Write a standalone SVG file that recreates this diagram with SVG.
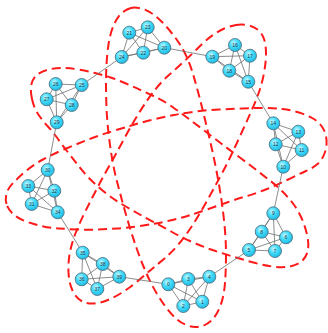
<svg xmlns="http://www.w3.org/2000/svg" width="328" height="333" viewBox="0 0 328 333">
<defs>
<radialGradient id="g" cx="0.4" cy="0.35" r="0.7">
<stop offset="0" stop-color="#c4f7ff"/>
<stop offset="0.45" stop-color="#44dbfa"/>
<stop offset="1" stop-color="#1ab6e0"/>
</radialGradient>
<style>
.hull{fill:none;stroke:#ff1a1a;stroke-width:2;stroke-dasharray:9 5;}
.edge{fill:none;stroke:#6e6e6e;stroke-width:0.8;}
.node circle{fill:url(#g);stroke:#4a6a76;stroke-width:0.8;}
.node text{font-family:"Liberation Sans",Arial,sans-serif;font-size:5px;fill:#1c3440;text-anchor:middle;}
</style>
</defs>
<rect width="328" height="333" fill="#ffffff"/>
<g id="hulls">
<path class="hull" d="M131,8 Q135,7 141,8.5 Q147,10 152,13.5 Q157,17 161.5,21.5 Q166,26 170.5,31.5 Q175,37 179,43 Q183,49 186.5,56.5 Q190,64 193,74 Q196,84 199,95.5 Q202,107 205,119.5 Q208,132 211,145 Q214,158 216.5,171 Q219,184 221,197 Q223,210 224.5,225 Q226,240 226,255 Q226,270 225,283 Q224,296 220.5,305.5 Q217,315 212,320 Q207,325 200.5,326.5 Q194,328 187.5,325.5 Q181,323 176,318.5 Q171,314 166.5,308 Q162,302 158,295.5 Q154,289 150.5,282 Q147,275 143.5,266.5 Q140,258 136.5,248 Q133,238 129.5,226.5 Q126,215 123,204 Q120,193 117,181.5 Q114,170 112,158 Q110,146 108.5,133 Q107,120 106.5,107.5 Q106,95 106,82.5 Q106,70 107,57.5 Q108,45 110,36.5 Q112,28 115.5,21.5 Q119,15 123,12 Q127,9 131,8 Z"/>
<path class="hull" d="M236,25 Q241,24 247,25 Q253,26 257.5,29.5 Q262,33 264,39 Q266,45 266,53.5 Q266,62 264,73 Q262,84 258.5,93.5 Q255,103 250.5,113 Q246,123 241,134 Q236,145 231,155.5 Q226,166 219.5,178 Q213,190 205.5,203.5 Q198,217 191,227.5 Q184,238 177.5,245.5 Q171,253 164.5,258.5 Q158,264 152,269 Q146,274 139,280 Q132,286 124.5,291 Q117,296 109,299.5 Q101,303 94,303.5 Q87,304 81.5,301 Q76,298 72.5,290.5 Q69,283 68.5,272.5 Q68,262 70,252 Q72,242 76,232 Q80,222 85.5,211 Q91,200 97,188.5 Q103,177 109.5,165.5 Q116,154 123.5,140 Q131,126 139,113 Q147,100 154.5,90.5 Q162,81 169.5,74.5 Q177,68 184.5,61 Q192,54 199,47 Q206,40 213,35 Q220,30 225.5,28 Q231,26 236,25 Z"/>
<path class="hull" d="M32,99 Q30,90 31.5,84 Q33,78 37.5,74.5 Q42,71 48.5,69.5 Q55,68 62.5,68 Q70,68 78.5,69.5 Q87,71 95,73 Q103,75 110.5,77.5 Q118,80 126,83.5 Q134,87 141.5,90.5 Q149,94 156.5,97.5 Q164,101 172.5,107 Q181,113 189,119 Q197,125 205.5,131.5 Q214,138 222.5,144.5 Q231,151 240.5,158 Q250,165 257,170.5 Q264,176 270.5,181 Q277,186 282.5,191.5 Q288,197 293,203.5 Q298,210 301.5,218 Q305,226 307,234.5 Q309,243 308,249.5 Q307,256 302.5,260.5 Q298,265 290,266.5 Q282,268 272,266.5 Q262,265 251.5,262 Q241,259 231,256 Q221,253 211,249.5 Q201,246 191,241.5 Q181,237 172,232 Q163,227 154.5,222.5 Q146,218 138,213.5 Q130,209 121.5,204 Q113,199 105,192.5 Q97,186 90.5,179.5 Q84,173 79,166.5 Q74,160 68.5,153 Q63,146 58,139 Q53,132 47.5,126 Q42,120 38,114 Q34,108 32,99 Z"/>
<path class="hull" d="M6.5,204 Q5,199 6.5,193.5 Q8,188 13.5,182.5 Q19,177 26,171 Q33,165 43,159.5 Q53,154 65,149 Q77,144 88.5,139.5 Q100,135 111.5,131.5 Q123,128 133,125 Q143,122 153.5,119.5 Q164,117 174,115 Q184,113 195.5,111.5 Q207,110 219,109.5 Q231,109 242.5,108.5 Q254,108 264,108 Q274,108 282.5,109 Q291,110 299,112.5 Q307,115 313,118.5 Q319,122 322.5,127.5 Q326,133 326.5,140 Q327,147 324.5,153.5 Q322,160 317.5,164 Q313,168 305,171.5 Q297,175 287,180 Q277,185 267,189 Q257,193 247,196 Q237,199 227,202.5 Q217,206 207,209.5 Q197,213 189,215.5 Q181,218 172.5,220 Q164,222 155.5,223.5 Q147,225 137,226.5 Q127,228 117,228.5 Q107,229 97,229.5 Q87,230 77,229.5 Q67,229 58.5,228.5 Q50,228 41.5,226 Q33,224 25,221 Q17,218 12.5,213.5 Q8,209 6.5,204 Z"/>
</g>
<g id="connectors">
<path class="edge" d="M168.3,284.3L202.3,301.7M168.3,284.3L183.3,306M168.3,284.3L188.3,279M168.3,284.3L209.3,276.7M202.3,301.7L183.3,306M202.3,301.7L188.3,279M202.3,301.7L209.3,276.7M183.3,306L188.3,279M183.3,306L209.3,276.7M188.3,279L209.3,276.7"/>
<path class="edge" d="M249,250L286,237.3M249,250L275,251M249,250L261.7,231.7M249,250L273.3,213.3M286,237.3L275,251M286,237.3L261.7,231.7M286,237.3L273.3,213.3M275,251L261.7,231.7M275,251L273.3,213.3M261.7,231.7L273.3,213.3"/>
<path class="edge" d="M283.3,166.7L301.7,150M283.3,166.7L275.7,144.3M283.3,166.7L298.3,131.7M283.3,166.7L273.3,123.3M301.7,150L275.7,144.3M301.7,150L298.3,131.7M301.7,150L273.3,123.3M275.7,144.3L298.3,131.7M275.7,144.3L273.3,123.3M298.3,131.7L273.3,123.3"/>
<path class="edge" d="M248.3,81.7L235,45M248.3,81.7L250,55.7M248.3,81.7L229.3,70.7M248.3,81.7L212.3,56.7M235,45L250,55.7M235,45L229.3,70.7M235,45L212.3,56.7M250,55.7L229.3,70.7M250,55.7L212.3,56.7M229.3,70.7L212.3,56.7"/>
<path class="edge" d="M164.3,47.7L129.3,32.7M164.3,47.7L143.3,52.7M164.3,47.7L147.7,27.3M164.3,47.7L121.7,57M129.3,32.7L143.3,52.7M129.3,32.7L147.7,27.3M129.3,32.7L121.7,57M143.3,52.7L147.7,27.3M143.3,52.7L121.7,57M147.7,27.3L121.7,57"/>
<path class="edge" d="M81.7,85L55.7,84M81.7,85L46.7,99.3M81.7,85L71.7,105M81.7,85L56.7,122.3M55.7,84L46.7,99.3M55.7,84L71.7,105M55.7,84L56.7,122.3M46.7,99.3L71.7,105M46.7,99.3L56.7,122.3M71.7,105L56.7,122.3"/>
<path class="edge" d="M47.7,170L31.7,204M47.7,170L54.3,190.7M47.7,170L28.3,186M47.7,170L57.7,212.3M31.7,204L54.3,190.7M31.7,204L28.3,186M31.7,204L57.7,212.3M54.3,190.7L28.3,186M54.3,190.7L57.7,212.3M28.3,186L57.7,212.3"/>
<path class="edge" d="M82.7,252.7L81.7,279.3M82.7,252.7L97.3,289M82.7,252.7L102.7,264M82.7,252.7L119.3,276.7M81.7,279.3L97.3,289M81.7,279.3L102.7,264M81.7,279.3L119.3,276.7M97.3,289L102.7,264M97.3,289L119.3,276.7M102.7,264L119.3,276.7"/>
<path class="edge" d="M209.3,276.7L249,250M273.3,213.3L283.3,166.7M273.3,123.3L248.3,81.7M212.3,56.7L164.3,47.7M121.7,57L81.7,85M56.7,122.3L47.7,170M57.7,212.3L82.7,252.7M119.3,276.7L168.3,284.3"/>
</g>
<g id="n0" class="node"><circle cx="168.3" cy="284.3" r="6.5"/><text x="168.3" y="286.1">0</text></g>
<g id="n1" class="node"><circle cx="202.3" cy="301.7" r="6.5"/><text x="202.3" y="303.5">1</text></g>
<g id="n2" class="node"><circle cx="183.3" cy="306" r="6.5"/><text x="183.3" y="307.8">2</text></g>
<g id="n3" class="node"><circle cx="188.3" cy="279" r="6.5"/><text x="188.3" y="280.8">3</text></g>
<g id="n4" class="node"><circle cx="209.3" cy="276.7" r="6.5"/><text x="209.3" y="278.5">4</text></g>
<g id="n5" class="node"><circle cx="249" cy="250" r="6.5"/><text x="249" y="251.8">5</text></g>
<g id="n6" class="node"><circle cx="286" cy="237.3" r="6.5"/><text x="286" y="239.1">6</text></g>
<g id="n7" class="node"><circle cx="275" cy="251" r="6.5"/><text x="275" y="252.8">7</text></g>
<g id="n8" class="node"><circle cx="261.7" cy="231.7" r="6.5"/><text x="261.7" y="233.5">8</text></g>
<g id="n9" class="node"><circle cx="273.3" cy="213.3" r="6.5"/><text x="273.3" y="215.1">9</text></g>
<g id="n10" class="node"><circle cx="283.3" cy="166.7" r="6.5"/><text x="283.3" y="168.5">10</text></g>
<g id="n11" class="node"><circle cx="301.7" cy="150" r="6.5"/><text x="301.7" y="151.8">11</text></g>
<g id="n12" class="node"><circle cx="275.7" cy="144.3" r="6.5"/><text x="275.7" y="146.1">12</text></g>
<g id="n13" class="node"><circle cx="298.3" cy="131.7" r="6.5"/><text x="298.3" y="133.5">13</text></g>
<g id="n14" class="node"><circle cx="273.3" cy="123.3" r="6.5"/><text x="273.3" y="125.1">14</text></g>
<g id="n15" class="node"><circle cx="248.3" cy="81.7" r="6.5"/><text x="248.3" y="83.5">15</text></g>
<g id="n16" class="node"><circle cx="235" cy="45" r="6.5"/><text x="235" y="46.8">16</text></g>
<g id="n17" class="node"><circle cx="250" cy="55.7" r="6.5"/><text x="250" y="57.5">17</text></g>
<g id="n18" class="node"><circle cx="229.3" cy="70.7" r="6.5"/><text x="229.3" y="72.5">18</text></g>
<g id="n19" class="node"><circle cx="212.3" cy="56.7" r="6.5"/><text x="212.3" y="58.5">19</text></g>
<g id="n20" class="node"><circle cx="164.3" cy="47.7" r="6.5"/><text x="164.3" y="49.5">20</text></g>
<g id="n21" class="node"><circle cx="129.3" cy="32.7" r="6.5"/><text x="129.3" y="34.5">21</text></g>
<g id="n22" class="node"><circle cx="143.3" cy="52.7" r="6.5"/><text x="143.3" y="54.5">22</text></g>
<g id="n23" class="node"><circle cx="147.7" cy="27.3" r="6.5"/><text x="147.7" y="29.1">23</text></g>
<g id="n24" class="node"><circle cx="121.7" cy="57" r="6.5"/><text x="121.7" y="58.8">24</text></g>
<g id="n25" class="node"><circle cx="81.7" cy="85" r="6.5"/><text x="81.7" y="86.8">25</text></g>
<g id="n26" class="node"><circle cx="55.7" cy="84" r="6.5"/><text x="55.7" y="85.8">26</text></g>
<g id="n27" class="node"><circle cx="46.7" cy="99.3" r="6.5"/><text x="46.7" y="101.1">27</text></g>
<g id="n28" class="node"><circle cx="71.7" cy="105" r="6.5"/><text x="71.7" y="106.8">28</text></g>
<g id="n29" class="node"><circle cx="56.7" cy="122.3" r="6.5"/><text x="56.7" y="124.1">29</text></g>
<g id="n30" class="node"><circle cx="47.7" cy="170" r="6.5"/><text x="47.7" y="171.8">30</text></g>
<g id="n31" class="node"><circle cx="31.7" cy="204" r="6.5"/><text x="31.7" y="205.8">31</text></g>
<g id="n32" class="node"><circle cx="54.3" cy="190.7" r="6.5"/><text x="54.3" y="192.5">32</text></g>
<g id="n33" class="node"><circle cx="28.3" cy="186" r="6.5"/><text x="28.3" y="187.8">33</text></g>
<g id="n34" class="node"><circle cx="57.7" cy="212.3" r="6.5"/><text x="57.7" y="214.1">34</text></g>
<g id="n35" class="node"><circle cx="82.7" cy="252.7" r="6.5"/><text x="82.7" y="254.5">35</text></g>
<g id="n36" class="node"><circle cx="81.7" cy="279.3" r="6.5"/><text x="81.7" y="281.1">36</text></g>
<g id="n37" class="node"><circle cx="97.3" cy="289" r="6.5"/><text x="97.3" y="290.8">37</text></g>
<g id="n38" class="node"><circle cx="102.7" cy="264" r="6.5"/><text x="102.7" y="265.8">38</text></g>
<g id="n39" class="node"><circle cx="119.3" cy="276.7" r="6.5"/><text x="119.3" y="278.5">39</text></g>
</svg>
